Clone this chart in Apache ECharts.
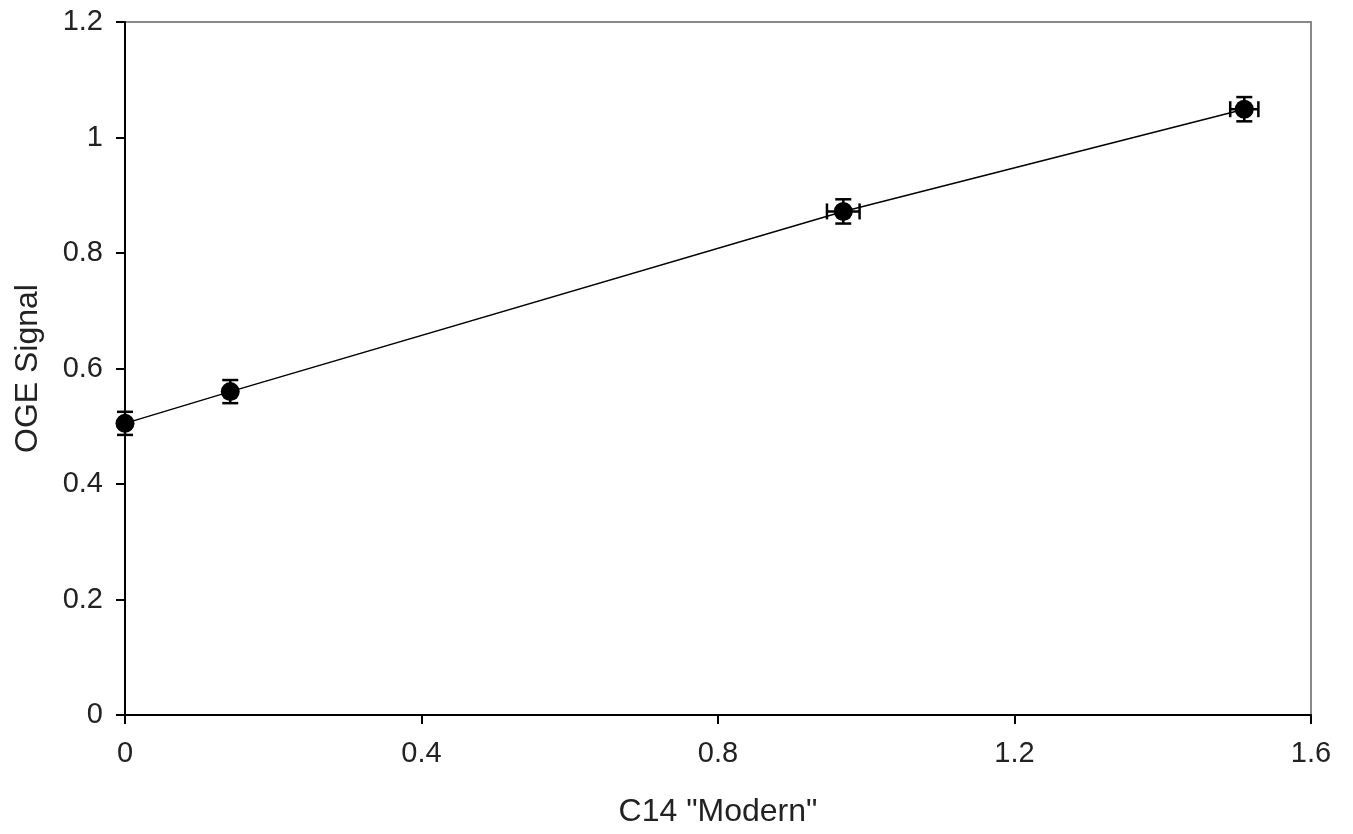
<!DOCTYPE html>
<html>
<head>
    <meta charset="UTF-8">
    <title>OGE Signal vs C14</title>
    <style>
        html, body { margin: 0; padding: 0; background: #fff; }
    </style>
</head>
<body>
    <div id="main" style="width: 1353px;height:834px;"></div>
    <script src="https://cdn.jsdelivr.net/npm/echarts@6/dist/echarts.min.js"></script>
    <script type="text/javascript">
        // values
        var c14 = [0, 0.142, 0.969, 1.51];
        var oge = [0.505, 0.56, 0.872, 1.049];
        var ogeErr = [0.02, 0.02, 0.021, 0.021];
        var c14Err = [0, 0, 0.022, 0.019];

        var points = c14.map(function (x, i) { return [x, oge[i]]; });
        var errData = c14.map(function (x, i) { return [x, oge[i], ogeErr[i], c14Err[i]]; });

        var black = '#000';

        // error bars drawn through the axis scales
        function renderErr(params, api) {
            var x = api.value(0), y = api.value(1), ey = api.value(2), ex = api.value(3);
            var top = api.coord([x, y + ey]);
            var bot = api.coord([x, y - ey]);
            var cap = 8;
            var st = { stroke: black, lineWidth: 2.5 };
            var kids = [
                { type: 'line', shape: { x1: top[0], y1: top[1], x2: bot[0], y2: bot[1] }, style: st },
                { type: 'line', shape: { x1: top[0] - cap, y1: top[1], x2: top[0] + cap, y2: top[1] }, style: st },
                { type: 'line', shape: { x1: bot[0] - cap, y1: bot[1], x2: bot[0] + cap, y2: bot[1] }, style: st }
            ];
            if (ex > 0) {
                var l = api.coord([x - ex, y]);
                var r = api.coord([x + ex, y]);
                kids.push({ type: 'line', shape: { x1: l[0], y1: l[1], x2: r[0], y2: r[1] }, style: st });
                kids.push({ type: 'line', shape: { x1: l[0], y1: l[1] - cap, x2: l[0], y2: l[1] + cap }, style: st });
                kids.push({ type: 'line', shape: { x1: r[0], y1: r[1] - cap, x2: r[0], y2: r[1] + cap }, style: st });
            }
            return { type: 'group', children: kids };
        }

        var myChart = echarts.init(document.getElementById('main'));
        myChart.setOption({
            animation: false,
            textStyle: { fontFamily: 'Liberation Sans, Arial, sans-serif' },
            grid: {
                left: 125, top: 22, right: 42, bottom: 119,
                show: true, borderColor: '#888', borderWidth: 2, backgroundColor: '#fff'
            },
            xAxis: {
                type: 'value', min: 0, max: 1.6, interval: 0.4,
                name: 'C14 "Modern"', nameLocation: 'middle', nameGap: 81,
                nameTextStyle: { fontSize: 32, color: '#222' },
                axisLine: { show: true, onZero: false, lineStyle: { color: black, width: 2 } },
                axisTick: { show: true, length: 9, lineStyle: { color: black, width: 2 } },
                axisLabel: { fontSize: 29, color: '#222', margin: 24 },
                splitLine: { show: false }
            },
            yAxis: {
                type: 'value', min: 0, max: 1.2, interval: 0.2,
                name: 'OGE Signal', nameLocation: 'middle', nameGap: 81,
                nameTextStyle: { fontSize: 32, color: '#222' },
                axisLine: { show: true, lineStyle: { color: black, width: 2 } },
                axisTick: { show: true, length: 9, lineStyle: { color: black, width: 2 } },
                axisLabel: { fontSize: 29, color: '#222', margin: 22 },
                splitLine: { show: false }
            },
            series: [
                {
                    type: 'line',
                    data: points,
                    symbol: 'none',
                    lineStyle: { color: black, width: 1.5 },
                    z: 2
                },
                {
                    type: 'custom',
                    renderItem: renderErr,
                    data: errData,
                    z: 3
                },
                {
                    type: 'scatter',
                    data: points,
                    symbol: 'circle',
                    symbolSize: 19,
                    itemStyle: { color: black, opacity: 1 },
                    z: 4
                }
            ]
        });
    </script>
</body>
</html>
